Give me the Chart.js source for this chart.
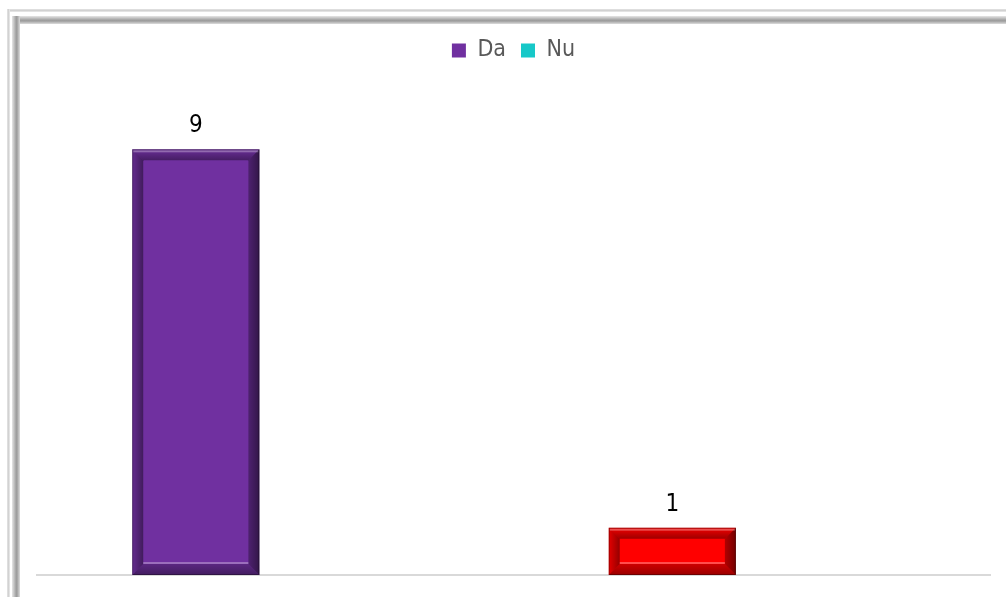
<!DOCTYPE html>
<html>
<head>
<meta charset="utf-8">
<script src="https://cdn.jsdelivr.net/npm/chart.js@4.4.1/dist/chart.umd.min.js"></script>
<style>
  html, body { margin: 0; padding: 0; background: #fff; }
  #wrap { position: relative; width: 1006px; height: 599px; overflow: hidden; }
  .line { position: absolute; }
  #outerTop { left: 7px; top: 9px; right: 0; height: 3px; background: linear-gradient(#e4e4e4, #d2d2d2, #ececec); }
  #outerLeft { left: 7px; top: 9px; width: 3px; bottom: 2px; background: linear-gradient(90deg, #e4e4e4, #d2d2d2, #ececec); }
  #innerTop { left: 12px; top: 16px; right: 0; height: 8px; background: linear-gradient(#e6e6e6, #a8a8a8 45%, #9a9a9a 60%, #dcdcdc); }
  #innerLeft { left: 12px; top: 16px; width: 8px; bottom: 2px; background: linear-gradient(90deg, #e6e6e6, #a8a8a8 45%, #9a9a9a 60%, #dcdcdc); }
  canvas { position: absolute; left: 0; top: 0; }
</style>
</head>
<body>
<div id="wrap">
  <div class="line" id="outerTop"></div>
  <div class="line" id="outerLeft"></div>
  <div class="line" id="innerTop"></div>
  <div class="line" id="innerLeft"></div>
  <canvas id="my-chart" width="1006" height="599"></canvas>
</div>
<script>
const categories = ["", " "];
const daValues = [9, 1];
const nuValues = [0, 0];
const daColors = ["#7030A0", "#FF0000"];
const nuColor = "#17C8C8";

// pushes the plot area down below the legend
const legendSpace = {
  id: "legendSpace",
  beforeInit(chart) {
    const fit = chart.legend.fit;
    chart.legend.fit = function () {
      fit.bind(chart.legend)();
      this.height += 30;
    };
  },
};

// bevelled look on the bars
const bevel = {
  id: "bevel",
  afterDatasetsDraw(chart) {
    const ctx = chart.ctx;
    chart.getDatasetMeta(0).data.forEach((bar) => {
      const l = bar.x - bar.width / 2, r = bar.x + bar.width / 2;
      const t = bar.y, b = bar.base;
      const d = Math.min(11, (b - t) / 3);
      const band = (pts, grad) => {
        ctx.beginPath();
        ctx.moveTo(pts[0][0], pts[0][1]);
        pts.slice(1).forEach((p) => ctx.lineTo(p[0], p[1]));
        ctx.closePath();
        ctx.fillStyle = grad;
        ctx.fill();
      };
      const lin = (x0, y0, x1, y1, a0, a1) => {
        const g = ctx.createLinearGradient(x0, y0, x1, y1);
        g.addColorStop(0, `rgba(0,0,0,${a0})`);
        g.addColorStop(1, `rgba(0,0,0,${a1})`);
        return g;
      };
      ctx.save();
      band([[l, t], [r, t], [r - d, t + d], [l + d, t + d]], lin(0, t, 0, t + d, 0.05, 0.38));
      band([[l, t], [l + d, t + d], [l + d, b - d], [l, b]], lin(l, 0, l + d, 0, 0.1, 0.42));
      band([[r, t], [r, b], [r - d, b - d], [r - d, t + d]], lin(r - d, 0, r, 0, 0.3, 0.55));
      band([[l, b], [l + d, b - d], [r - d, b - d], [r, b]], lin(0, b - d, 0, b, 0.2, 0.4));
      ctx.fillStyle = "rgba(255,255,255,0.3)";
      ctx.fillRect(l + 1, t + 1, r - l - 2, 2);
      ctx.fillRect(l + d, b - d - 2, r - l - 2 * d, 2);
      ctx.strokeStyle = "rgba(0,0,0,0.3)";
      ctx.lineWidth = 1;
      ctx.strokeRect(l + 0.5, t + 0.5, r - l - 1, b - t - 1);
      ctx.restore();
    });
  },
};

const valueLabels = {
  id: "valueLabels",
  afterDatasetsDraw(chart) {
    const ctx = chart.ctx;
    ctx.save();
    ctx.font = "24px 'DejaVu Sans Condensed', 'DejaVu Sans'";
    ctx.fillStyle = "#000";
    ctx.textAlign = "center";
    ctx.textBaseline = "alphabetic";
    chart.data.datasets.forEach((ds, i) => {
      chart.getDatasetMeta(i).data.forEach((bar, j) => {
        if (!ds.data[j]) return;
        ctx.fillText(String(ds.data[j]), bar.x, bar.y - 17);
      });
    });
    ctx.restore();
  },
};

const ctx = document.getElementById("my-chart").getContext("2d");
const chart = new Chart(ctx, {
  type: "bar",
  data: {
    labels: categories,
    datasets: [
      { label: "Da", data: daValues, backgroundColor: daColors, borderWidth: 0 },
      { label: "Nu", data: nuValues, backgroundColor: nuColor, borderWidth: 0 },
    ],
  },
  options: {
    responsive: false,
    animation: false,
    categoryPercentage: 0.667,
    barPercentage: 0.8,
    layout: { padding: { left: 37, right: 16, top: 24, bottom: 16 } },
    scales: {
      x: {
        grid: { display: false },
        border: { color: "#d9d9d9", width: 2 },
        ticks: { display: false },
      },
      y: { display: false, min: 0, max: 10 },
    },
    plugins: {
      legend: {
        display: true,
        labels: {
          color: "#595959",
          font: { family: "'DejaVu Sans Condensed', 'DejaVu Sans'", size: 23 },
          boxWidth: 14,
          boxHeight: 14,
          padding: 15,
        },
      },
      tooltip: { enabled: false },
    },
  },
  plugins: [legendSpace, bevel, valueLabels],
});
</script>
</body>
</html>
